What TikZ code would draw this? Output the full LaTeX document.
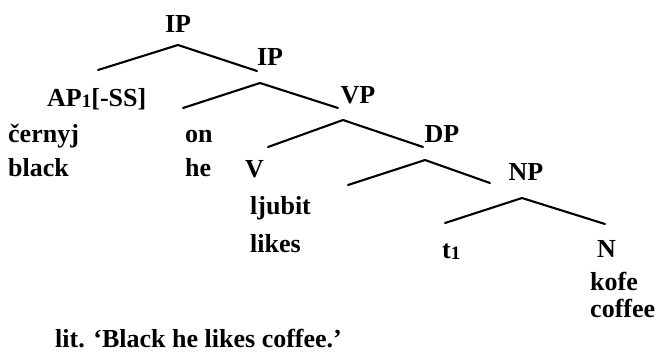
\documentclass[tikz,border=0pt]{standalone}
\usepackage{fontspec}
\setmainfont{Liberation Serif}
\begin{document}
\begin{tikzpicture}[x=1pt,y=-1pt,
  lbl/.style={inner sep=0pt,anchor=base,font=\fontsize{26}{30}\selectfont\bfseries},
  wrd/.style={inner sep=0pt,anchor=base west,font=\fontsize{26}{30}\selectfont\bfseries},
  edge/.style={line width=2.1pt,line cap=round,line join=round}]
\useasboundingbox (0,0) rectangle (661,354);
\newcommand{\subone}{\raisebox{-1.5pt}{\fontsize{19}{19}\selectfont 1}}
% labels
\node[lbl] (ip1) at (178,32) {IP};
\node[lbl] (ip2) at (270,65) {IP};
\node[wrd] (ap) at (47,106) {AP\subone[-SS]};
\node[lbl] (vp) at (358,103) {VP};
\node[lbl] (dp) at (442,142) {DP};
\node[lbl] (np) at (526,180) {NP};
\node[wrd] (cernyj) at (8,142) {černyj};
\node[wrd] (black) at (8,176) {black};
\node[wrd] (on) at (185,142) {on};
\node[wrd] (he) at (185,176) {he};
\node[wrd] (v) at (245,177) {V};
\node[wrd] (ljubit) at (250,214) {ljubit};
\node[wrd] (likes) at (250,252) {likes};
\node[wrd] (t) at (442,258) {t\subone};
\node[wrd] (n) at (597,257) {N};
\node[wrd] (kofe) at (590,290) {kofe};
\node[wrd] (coffee) at (590,317) {coffee};
\node[wrd] (lit) at (55,347) {lit. ‘Black he likes coffee.’};
% branch points
\coordinate (ip1a) at (178,45);
\coordinate (ip1l) at (98,70);
\coordinate (ip1r) at (257,71);
\coordinate (ip2a) at (260,83);
\coordinate (ip2l) at (183,108);
\coordinate (ip2r) at (338,108);
\coordinate (vpa) at (343,120);
\coordinate (vpl) at (268,147);
\coordinate (vpr) at (423,147);
\coordinate (dpa) at (425,160);
\coordinate (dpl) at (348,185);
\coordinate (dpr) at (490,183);
\coordinate (npa) at (522,198);
\coordinate (npl) at (445,223);
\coordinate (npr) at (605,224);
\draw[edge] (ip1l) -- (ip1a) -- (ip1r);
\draw[edge] (ip2l) -- (ip2a) -- (ip2r);
\draw[edge] (vpl) -- (vpa) -- (vpr);
\draw[edge] (dpl) -- (dpa) -- (dpr);
\draw[edge] (npl) -- (npa) -- (npr);
\end{tikzpicture}
\end{document}
